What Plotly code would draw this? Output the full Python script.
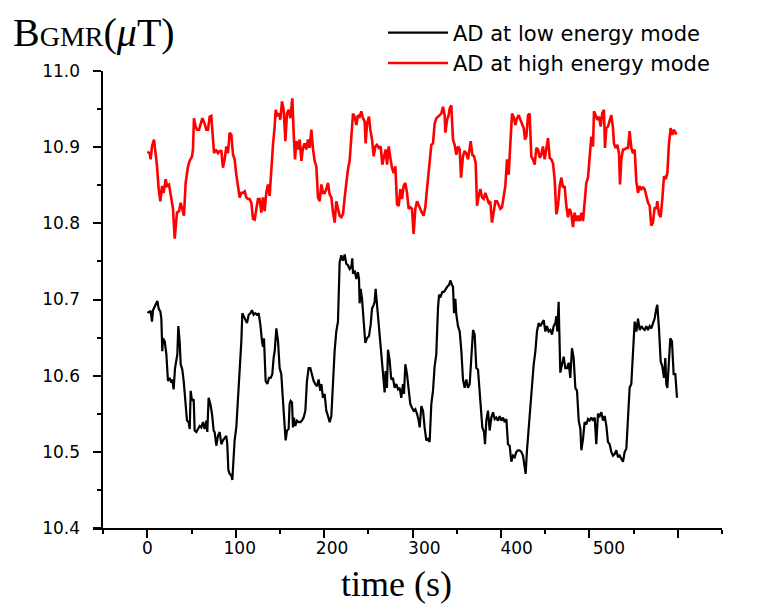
import plotly.graph_objects as go

# ---- data (time in s, field in uT) ----
t_low = [0, 1.8, 3.7, 5.2, 6.4, 8.3, 10.1, 11.3, 12.8, 14.7, 15.8, 16.9, 17.7, 19.6, 21.5, 23.3, 25.2, 27.1, 28.2, 29.7,
         31.3, 32.8, 33.9, 35.0, 36.5, 37.7, 39.5, 41.1, 43.0, 44.8, 46.7, 47.9, 49.0, 50.5, 52.4, 53.5, 55.4, 57.3, 59.2, 61.0,
         62.9, 64.8, 66.7, 67.8, 69.3, 71.2, 73.1, 75.0, 76.1, 78.0, 79.9, 81.8, 83.7, 85.5, 87.4, 89.3, 90.4, 91.6, 93.1, 95.0,
         96.1, 97.6, 98.7, 100.6, 102.5, 104.4, 106.3, 107.4, 109.3, 111.2, 112.7, 114.6, 116.5, 118.3, 120.2, 122.1, 124.0, 125.9, 127.8, 129.7,
         130.8, 131.9, 133.8, 135.7, 137.6, 139.5, 141.3, 142.8, 144.0, 145.9, 147.8, 149.6, 151.5, 153.4, 155.3, 156.4, 157.9, 159.8, 160.9, 162.1,
         163.6, 164.7, 165.8, 167.3, 169.2, 171.1, 173.0, 174.9, 176.8, 178.7, 180.5, 182.4, 184.3, 186.2, 188.1, 190.0, 191.9, 193.7, 195.6, 196.8,
         198.6, 200.5, 202.4, 204.3, 206.2, 208.1, 210.0, 211.8, 213.7, 215.6, 217.5, 219.4, 221.3, 223.2, 225.0, 226.9, 228.8, 230.7, 231.8, 232.6,
         234.5, 236.4, 238.2, 239.4, 240.1, 241.3, 242.8, 244.6, 246.5, 248.4, 250.7, 252.6, 254.1, 256.0, 257.1, 258.2, 259.7, 261.2, 262.7, 264.6,
         266.5, 268.4, 269.5, 271.0, 272.2, 274.0, 275.9, 277.8, 279.7, 281.6, 283.5, 285.4, 287.2, 289.1, 290.3, 291.8, 293.7, 295.5, 297.4, 299.3,
         301.2, 303.1, 305.0, 306.9, 308.0, 309.9, 311.8, 313.6, 315.5, 317.4, 319.3, 321.2, 323.1, 324.9, 326.8, 328.7, 329.9, 331.8, 333.7, 335.6,
         337.4, 339.3, 341.2, 342.7, 344.6, 345.7, 346.9, 348.4, 349.5, 351.4, 353.3, 355.2, 357.0, 358.9, 360.8, 362.7, 364.6, 366.5, 368.4, 370.2,
         372.1, 374.0, 375.9, 377.8, 378.9, 380.8, 381.9, 383.4, 385.3, 387.2, 389.1, 391.0, 392.9, 394.7, 396.6, 398.5, 400.4, 402.3, 404.2, 406.1,
         407.9, 409.8, 411.7, 413.6, 415.5, 417.4, 419.2, 421.1, 423.0, 424.9, 426.8, 427.9, 429.4, 431.3, 433.2, 435.1, 437.0, 438.9, 440.7, 442.6,
         444.5, 446.4, 448.3, 450.2, 452.0, 453.9, 455.8, 457.7, 459.6, 461.5, 462.6, 463.7, 465.2, 467.1, 469.0, 470.9, 472.8, 474.7, 476.6, 478.4,
         480.3, 482.2, 484.1, 486.0, 487.9, 489.8, 490.9, 492.8, 494.6, 496.5, 498.4, 500.3, 502.2, 504.1, 506.0, 507.8, 509.7, 511.6, 513.5, 515.4,
         517.3, 519.2, 521.0, 522.9, 524.8, 526.7, 528.6, 530.5, 532.4, 534.2, 536.1, 538.0, 539.9, 541.8, 543.7, 545.5, 547.4, 549.3, 551.2, 553.1,
         555.0, 556.9, 558.7, 560.6, 562.5, 564.4, 566.3, 568.2, 570.1, 572.0, 573.8, 575.7, 576.8, 578.7, 580.6, 582.5, 584.4, 585.9, 587.0, 588.2,
         589.7, 591.5, 593.4, 595.3, 597.2, 599.1]
b_low = [10.684, 10.683, 10.685, 10.671, 10.686, 10.691, 10.695, 10.698, 10.688, 10.684, 10.675, 10.632, 10.649, 10.645, 10.628, 10.593, 10.597, 10.591, 10.595, 10.582,
         10.610, 10.625, 10.628, 10.665, 10.645, 10.615, 10.608, 10.593, 10.563, 10.541, 10.539, 10.530, 10.580, 10.567, 10.569, 10.528, 10.526, 10.530, 10.534, 10.532,
         10.539, 10.530, 10.541, 10.526, 10.571, 10.563, 10.550, 10.528, 10.526, 10.508, 10.521, 10.526, 10.510, 10.515, 10.519, 10.521, 10.510, 10.476, 10.471, 10.469,
         10.463, 10.493, 10.515, 10.532, 10.571, 10.602, 10.645, 10.682, 10.678, 10.673, 10.669, 10.680, 10.682, 10.686, 10.680, 10.682, 10.680, 10.682, 10.667, 10.645,
         10.638, 10.649, 10.593, 10.589, 10.597, 10.597, 10.602, 10.623, 10.632, 10.662, 10.645, 10.610, 10.602, 10.567, 10.541, 10.515, 10.528, 10.530, 10.563, 10.567,
         10.565, 10.532, 10.545, 10.534, 10.541, 10.539, 10.539, 10.541, 10.545, 10.554, 10.593, 10.610, 10.610, 10.602, 10.593, 10.589, 10.586, 10.595, 10.580, 10.589,
         10.571, 10.576, 10.554, 10.547, 10.539, 10.547, 10.602, 10.632, 10.658, 10.671, 10.749, 10.758, 10.751, 10.759, 10.747, 10.745, 10.740, 10.743, 10.754, 10.734,
         10.738, 10.727, 10.736, 10.727, 10.695, 10.714, 10.701, 10.667, 10.643, 10.649, 10.652, 10.667, 10.688, 10.693, 10.697, 10.714, 10.693, 10.667, 10.656, 10.628,
         10.602, 10.578, 10.606, 10.584, 10.634, 10.621, 10.595, 10.597, 10.584, 10.589, 10.582, 10.584, 10.571, 10.589, 10.576, 10.615, 10.602, 10.584, 10.563, 10.558,
         10.554, 10.556, 10.550, 10.541, 10.532, 10.560, 10.554, 10.532, 10.515, 10.517, 10.513, 10.563, 10.580, 10.612, 10.628, 10.688, 10.706, 10.704, 10.710, 10.710,
         10.714, 10.717, 10.719, 10.725, 10.719, 10.717, 10.682, 10.701, 10.680, 10.665, 10.658, 10.632, 10.595, 10.584, 10.595, 10.584, 10.589, 10.623, 10.660, 10.654,
         10.610, 10.608, 10.576, 10.558, 10.532, 10.526, 10.510, 10.541, 10.554, 10.528, 10.545, 10.552, 10.543, 10.545, 10.541, 10.547, 10.541, 10.545, 10.539, 10.543,
         10.510, 10.508, 10.487, 10.495, 10.493, 10.500, 10.502, 10.502, 10.500, 10.495, 10.480, 10.471, 10.502, 10.532, 10.554, 10.591, 10.615, 10.632, 10.658, 10.669,
         10.665, 10.669, 10.673, 10.658, 10.665, 10.658, 10.660, 10.654, 10.665, 10.669, 10.678, 10.658, 10.697, 10.604, 10.615, 10.625, 10.610, 10.610, 10.617, 10.597,
         10.636, 10.623, 10.584, 10.580, 10.541, 10.530, 10.502, 10.517, 10.539, 10.536, 10.543, 10.541, 10.545, 10.541, 10.545, 10.510, 10.550, 10.547, 10.552, 10.541,
         10.547, 10.534, 10.513, 10.510, 10.500, 10.495, 10.497, 10.502, 10.493, 10.495, 10.491, 10.487, 10.500, 10.504, 10.545, 10.584, 10.589, 10.641, 10.671, 10.658,
         10.675, 10.660, 10.665, 10.662, 10.660, 10.665, 10.660, 10.665, 10.662, 10.669, 10.675, 10.688, 10.693, 10.662, 10.619, 10.612, 10.597, 10.623, 10.589, 10.584,
         10.610, 10.649, 10.645, 10.602, 10.602, 10.571]

t_high = [0, 2.6, 3.7, 5.2, 7.5, 9.0, 10.9, 12.8, 14.7, 16.6, 18.4, 20.7, 22.2, 24.5, 27.1, 29.0, 30.9, 33.5, 35.8, 37.7,
          39.5, 41.4, 43.3, 46.0, 47.8, 50.5, 51.6, 52.7, 54.6, 56.1, 58.4, 60.3, 62.2, 64.8, 66.7, 68.6, 70.5, 72.3, 74.2, 75.4,
          77.3, 79.9, 81.8, 83.7, 85.5, 87.4, 89.3, 91.2, 93.1, 95.0, 96.9, 98.7, 100.6, 102.5, 104.4, 106.3, 108.2, 110.1, 111.9, 113.8,
          115.7, 117.6, 119.5, 121.4, 123.2, 125.1, 127.0, 128.9, 130.8, 132.7, 134.5, 136.4, 138.3, 140.2, 142.1, 144.0, 145.1, 147.0, 148.9, 150.4,
          152.3, 154.2, 156.1, 157.9, 159.8, 161.7, 164.0, 165.5, 167.0, 168.5, 170.4, 172.3, 174.2, 176.0, 177.9, 179.8, 181.7, 183.6, 185.5, 187.4,
          189.2, 191.1, 193.0, 194.9, 196.8, 198.7, 200.6, 202.4, 204.3, 206.2, 208.1, 210.0, 211.9, 213.7, 215.6, 217.5, 219.4, 221.3, 223.2, 225.0,
          226.9, 228.8, 230.7, 232.6, 234.5, 236.4, 238.2, 240.1, 242.0, 243.9, 245.8, 246.9, 248.5, 250.7, 252.2, 254.1, 256.0, 257.9, 259.7, 262.0,
          263.9, 265.8, 267.7, 269.6, 271.1, 273.0, 274.8, 276.7, 278.6, 280.5, 282.4, 284.3, 286.1, 288.0, 289.9, 291.8, 293.7, 295.6, 297.5, 299.3,
          301.2, 303.1, 305.0, 306.9, 308.8, 310.6, 312.5, 314.4, 316.3, 318.6, 321.2, 323.1, 325.0, 326.9, 329.9, 332.5, 334.4, 336.3, 337.1, 339.0,
          340.8, 342.0, 343.8, 345.7, 347.6, 349.5, 351.4, 353.3, 354.8, 357.0, 358.9, 360.8, 362.7, 364.6, 365.7, 367.6, 369.5, 371.4, 372.9, 374.8,
          376.6, 378.5, 380.4, 382.3, 384.2, 386.1, 387.9, 389.8, 391.7, 393.6, 395.5, 397.4, 399.3, 401.1, 403.0, 404.9, 406.8, 408.7, 410.6, 412.5,
          414.3, 416.2, 418.1, 420.0, 421.9, 423.8, 425.7, 427.2, 428.7, 430.6, 432.4, 434.3, 436.2, 438.1, 440.0, 441.9, 443.8, 445.6, 447.5, 449.4,
          451.3, 453.2, 455.1, 456.9, 458.8, 460.7, 462.6, 464.5, 466.4, 468.3, 470.1, 472.0, 473.9, 475.8, 477.7, 479.6, 481.4, 483.3, 485.2, 487.1,
          489.0, 490.9, 492.8, 494.6, 496.5, 498.4, 500.3, 502.2, 504.1, 505.2, 507.1, 509.0, 510.9, 512.8, 514.6, 516.5, 517.6, 519.1, 521.0, 522.9,
          524.8, 526.7, 527.8, 529.7, 531.6, 533.5, 534.6, 536.1, 538.0, 539.9, 541.8, 543.7, 545.5, 547.4, 549.3, 551.2, 553.1, 555.0, 556.9, 558.7,
          560.6, 562.5, 564.4, 566.3, 568.2, 570.0, 571.9, 573.8, 575.7, 576.8, 578.7, 580.6, 582.5, 584.4, 586.3, 588.2, 590.0, 591.9, 593.8, 595.7,
          597.6, 599.1]
b_high = [10.894, 10.892, 10.884, 10.901, 10.910, 10.897, 10.875, 10.845, 10.829, 10.849, 10.840, 10.858, 10.849, 10.851, 10.834, 10.819, 10.780, 10.814, 10.816, 10.827,
          10.819, 10.810, 10.853, 10.875, 10.882, 10.888, 10.897, 10.938, 10.927, 10.923, 10.923, 10.931, 10.938, 10.931, 10.923, 10.923, 10.940, 10.941, 10.905, 10.892,
          10.897, 10.892, 10.895, 10.895, 10.873, 10.884, 10.901, 10.892, 10.919, 10.916, 10.890, 10.884, 10.864, 10.845, 10.834, 10.840, 10.840, 10.842, 10.834, 10.832,
          10.832, 10.827, 10.806, 10.805, 10.821, 10.832, 10.832, 10.814, 10.834, 10.816, 10.840, 10.851, 10.836, 10.875, 10.903, 10.927, 10.949, 10.942, 10.944, 10.936,
          10.960, 10.949, 10.908, 10.944, 10.949, 10.938, 10.964, 10.918, 10.884, 10.908, 10.897, 10.910, 10.882, 10.899, 10.905, 10.897, 10.910, 10.899, 10.923, 10.897,
          10.882, 10.875, 10.834, 10.829, 10.851, 10.840, 10.840, 10.845, 10.853, 10.838, 10.834, 10.814, 10.801, 10.829, 10.821, 10.810, 10.808, 10.812, 10.834, 10.853,
          10.871, 10.882, 10.914, 10.944, 10.940, 10.929, 10.942, 10.940, 10.947, 10.938, 10.934, 10.905, 10.931, 10.940, 10.923, 10.910, 10.888, 10.901, 10.903, 10.899,
          10.901, 10.877, 10.888, 10.897, 10.877, 10.901, 10.886, 10.873, 10.866, 10.875, 10.825, 10.823, 10.845, 10.832, 10.849, 10.853, 10.840, 10.819, 10.821, 10.819,
          10.786, 10.819, 10.829, 10.823, 10.819, 10.814, 10.810, 10.821, 10.845, 10.871, 10.903, 10.905, 10.931, 10.938, 10.942, 10.944, 10.953, 10.942, 10.919, 10.936,
          10.942, 10.951, 10.955, 10.910, 10.903, 10.890, 10.901, 10.897, 10.860, 10.888, 10.895, 10.892, 10.884, 10.897, 10.908, 10.890, 10.888, 10.879, 10.823, 10.836,
          10.845, 10.834, 10.832, 10.840, 10.834, 10.827, 10.829, 10.801, 10.814, 10.829, 10.829, 10.823, 10.819, 10.821, 10.836, 10.849, 10.884, 10.864, 10.905, 10.944,
          10.940, 10.929, 10.938, 10.942, 10.936, 10.929, 10.925, 10.910, 10.914, 10.942, 10.944, 10.888, 10.884, 10.877, 10.899, 10.897, 10.886, 10.890, 10.901, 10.884,
          10.897, 10.912, 10.886, 10.884, 10.879, 10.858, 10.812, 10.823, 10.849, 10.860, 10.847, 10.849, 10.823, 10.808, 10.819, 10.812, 10.795, 10.814, 10.803, 10.810,
          10.803, 10.814, 10.803, 10.827, 10.853, 10.860, 10.892, 10.914, 10.901, 10.947, 10.942, 10.936, 10.940, 10.927, 10.945, 10.949, 10.899, 10.925, 10.927, 10.936,
          10.942, 10.925, 10.905, 10.899, 10.903, 10.892, 10.851, 10.884, 10.897, 10.897, 10.899, 10.899, 10.921, 10.899, 10.892, 10.897, 10.855, 10.840, 10.849, 10.845,
          10.847, 10.845, 10.836, 10.827, 10.823, 10.797, 10.801, 10.821, 10.819, 10.829, 10.812, 10.808, 10.832, 10.862, 10.858, 10.866, 10.905, 10.925, 10.916, 10.923,
          10.918, 10.919]

series_names = ["AD at low energy mode", "AD at high energy mode"]
x_ticks_major = [0, 100, 200, 300, 400, 500, 600]
x_ticks_minor = [-50, 50, 150, 250, 350, 450, 550, 650]
x_label_vals = [0, 100, 200, 300, 400, 500]
x_label_text = ["0", "100", "200", "300", "400", "500"]
y_ticks_major = [10.4, 10.5, 10.6, 10.7, 10.8, 10.9, 11.0]
y_ticks_minor = [10.45, 10.55, 10.65, 10.75, 10.85, 10.95]

tick_font = dict(family="DejaVu Sans", size=17, color="black")

fig = go.Figure()
fig.add_trace(go.Scatter(x=t_low, y=b_low, mode="lines", name=series_names[0],
                         line=dict(color="black", width=2.2)))
fig.add_trace(go.Scatter(x=t_high, y=b_high, mode="lines", name=series_names[1],
                         line=dict(color="#ff0000", width=2.6)))
# empty trace to hold the label axis
fig.add_trace(go.Scatter(x=[], y=[], xaxis="x2", showlegend=False, hoverinfo="skip"))

fig.update_layout(
    width=774, height=606,
    margin=dict(l=93, r=52, t=67, b=78),
    paper_bgcolor="white", plot_bgcolor="white",
    showlegend=True,
    legend=dict(x=0.461, xanchor="left", y=1.128, yanchor="top",
                font=dict(family="DejaVu Sans", size=21, color="black"),
                bgcolor="rgba(0,0,0,0)", borderwidth=0, itemwidth=60,
                tracegroupgap=0),
    xaxis=dict(range=[-61.5, 650], showline=True, linewidth=2, linecolor="black",
               ticks="outside", tickvals=x_ticks_major, ticklen=8, tickwidth=2, tickcolor="black",
               showticklabels=False, showgrid=False, zeroline=False,
               minor=dict(tickvals=x_ticks_minor, ticks="outside", ticklen=4, tickwidth=2,
                          tickcolor="black", showgrid=False)),
    xaxis2=dict(overlaying="x", anchor="y", side="bottom", range=[-59.0, 622.5],
                tickvals=x_label_vals, ticktext=x_label_text, ticks="", showline=False,
                showgrid=False, zeroline=False, tickfont=tick_font, ticklabelstandoff=8),
    yaxis=dict(range=[10.4, 11.0], anchor="free", position=0.0151,
               showline=True, linewidth=2, linecolor="black",
               ticks="outside", tickvals=y_ticks_major, tickformat=".1f", ticklen=8, tickwidth=2,
               tickcolor="black", tickfont=tick_font, showgrid=False, zeroline=False,
               ticklabelstandoff=10,
               minor=dict(tickvals=y_ticks_minor, ticks="outside", ticklen=4, tickwidth=2,
                          tickcolor="black", showgrid=False)),
    annotations=[
        dict(text="B<span style='font-size:28px'>GMR</span>(<i>μ</i>T)", xref="paper", yref="paper",
             x=0, y=1, xanchor="left", yanchor="top", xshift=-82, yshift=63, showarrow=False,
             font=dict(family="Liberation Serif", size=40, color="black")),
        dict(text="time (s)", xref="paper", yref="paper", x=0.482, y=0,
             xanchor="center", yanchor="top", yshift=-34, showarrow=False,
             font=dict(family="Liberation Serif", size=36, color="black")),
    ],
)

fig.write_html("out.html")
